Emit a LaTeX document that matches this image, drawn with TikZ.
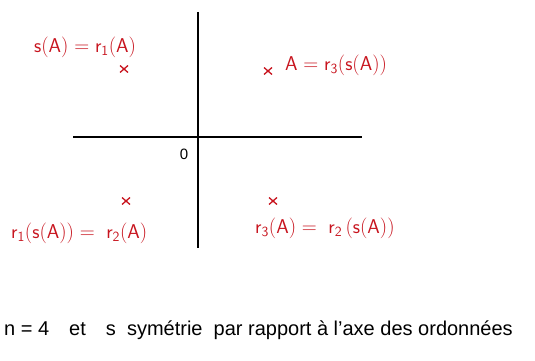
\documentclass[tikz,border=0pt]{standalone}
\usepackage{fontspec}
\setmainfont{Liberation Sans}
\usepackage{amsmath}
\usetikzlibrary{calc}
\definecolor{ink}{RGB}{200,20,30}
\begin{document}
\begin{tikzpicture}[x=1pt,y=-1pt,
  axis/.style={line width=1.6pt,black},
  lbl/.style={text=ink,font=\fontsize{20}{24}\selectfont,inner sep=0pt},
  cross/.style={ink,line width=1.3pt},
]
\useasboundingbox (0,0) rectangle (535,361);
\fill[white] (0,0) rectangle (535,361);
% axes
\coordinate (yt) at (198,12);
\coordinate (yb) at (198,248);
\coordinate (xl) at (73,137);
\coordinate (xr) at (362,137);
\draw[axis] (yt) -- (yb);
\draw[axis] (xl) -- (xr);
\node[font=\fontsize{15}{18}\selectfont,inner sep=0pt] (o) at (184,154) {0};
% crosses
\foreach \n/\x/\y in {c1/124/69, c2/268/71, c3/126/201, c4/273/201}{
  \coordinate (\n) at (\x,\y);
  \draw[cross] ($(\n)+(-4,-3.5)$) -- ($(\n)+(4,3.5)$) ($(\n)+(-4,3.5)$) -- ($(\n)+(4,-3.5)$);
}
% labels
\node[lbl,anchor=west] (l1) at (34,47) {$\mathsf{s(A) = r_1(A)}$};
\node[lbl,anchor=west] (l2) at (285,65) {$\mathsf{A = r_3(s(A))}$};
\node[lbl,anchor=west] (l3) at (11,233) {$\mathsf{r_1(s(A)) =\; r_2(A)}$};
\node[lbl,anchor=west] (l4) at (255,228) {$\mathsf{r_3(A) =\; r_2\,(s(A))}$};
% bottom text
\node[anchor=west,inner sep=0pt,font=\fontsize{20}{24}\selectfont] (t) at (4,330) {n = 4\quad et\quad s\ \ symétrie\ \ par rapport à l'axe des ordonnées};
\end{tikzpicture}
\end{document}
